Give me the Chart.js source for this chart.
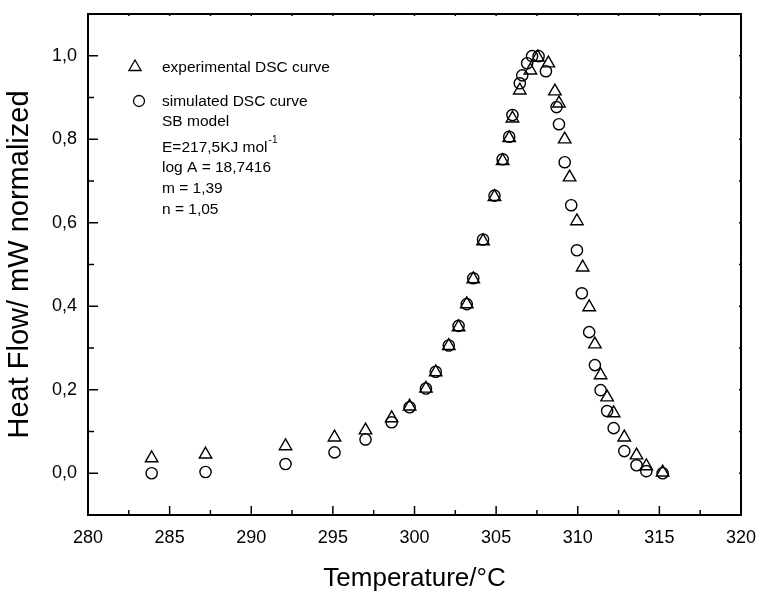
<!DOCTYPE html>
<html>
<head>
<meta charset="utf-8">
<script src="https://cdn.jsdelivr.net/npm/chart.js@4.4.1/dist/chart.umd.min.js"></script>
<style>
html,body{margin:0;padding:0;background:#fff;}
#wrap{width:759px;height:594px;position:relative;}
</style>
</head>
<body>
<div id="wrap"><canvas id="c" width="759" height="594"></canvas></div>
<script>
// Experimental DSC curve (triangles)
const expTemp = [283.9, 287.2, 292.1, 295.1, 297.0, 298.6, 299.7, 300.7, 301.3, 302.1, 302.7, 303.2, 303.6, 304.2, 304.9, 305.4, 305.8, 306.0, 306.45, 307.1, 307.55, 308.2, 308.6, 308.85, 309.2, 309.5, 309.95, 310.3, 310.7, 311.05, 311.4, 311.8, 312.2, 312.85, 313.6, 314.2, 315.2];
const expHeat = [0.036, 0.045, 0.065, 0.086, 0.103, 0.132, 0.160, 0.203, 0.242, 0.305, 0.350, 0.405, 0.465, 0.556, 0.662, 0.748, 0.803, 0.850, 0.917, 0.965, 0.996, 0.982, 0.915, 0.886, 0.800, 0.709, 0.604, 0.493, 0.398, 0.309, 0.235, 0.182, 0.144, 0.086, 0.043, 0.017, 0.002];
// Simulated DSC curve (circles)
const simTemp = [283.9, 287.2, 292.1, 295.1, 297.0, 298.6, 299.7, 300.7, 301.3, 302.1, 302.7, 303.2, 303.6, 304.2, 304.9, 305.4, 305.8, 306.0, 306.45, 306.6, 306.9, 307.2, 307.6, 308.05, 308.7, 308.85, 309.2, 309.6, 309.95, 310.25, 310.7, 311.05, 311.4, 311.8, 312.2, 312.85, 313.6, 314.2, 315.2];
const simHeat = [0.0, 0.003, 0.022, 0.050, 0.081, 0.122, 0.158, 0.203, 0.243, 0.306, 0.353, 0.405, 0.467, 0.560, 0.665, 0.752, 0.806, 0.858, 0.934, 0.953, 0.982, 0.999, 0.999, 0.963, 0.877, 0.836, 0.745, 0.642, 0.534, 0.431, 0.338, 0.259, 0.199, 0.149, 0.108, 0.053, 0.019, 0.005, 0.0];

const legendLines = ["experimental DSC curve", "simulated DSC curve", "SB model", "E=217,5KJ mol", "log A = 18,7416", "m = 1,39", "n = 1,05"];
const xTitle = "Temperature/\u00B0C";
const yTitle = "Heat Flow/ mW normalized";

const FONT = "'Liberation Sans', Arial, sans-serif";

function pts(xs, ys){ return xs.map((x,i)=>({x:x, y:ys[i]})); }

const frame = {
  id:'frame',
  afterDraw(chart){
    const ctx = chart.ctx, a = chart.chartArea;
    const xs = chart.scales.x, ys = chart.scales.y;
    ctx.save();
    ctx.strokeStyle = '#000';
    ctx.lineWidth = 1.5;
    // inward ticks bottom & top
    xs.ticks.forEach(t=>{
      const px = xs.getPixelForValue(t.value);
      const major = Math.abs(t.value/5 - Math.round(t.value/5)) < 1e-6;
      ctx.beginPath();
      ctx.moveTo(px, a.bottom); ctx.lineTo(px, a.bottom - (major?9:5));
      ctx.moveTo(px, a.top); ctx.lineTo(px, a.top + 2);
      ctx.stroke();
    });
    ys.ticks.forEach(t=>{
      const py = ys.getPixelForValue(t.value);
      const major = Math.abs(t.value/0.2 - Math.round(t.value/0.2)) < 1e-6;
      ctx.beginPath();
      ctx.moveTo(a.left, py); ctx.lineTo(a.left + (major?10:6), py);
      ctx.moveTo(a.right, py); ctx.lineTo(a.right - 2, py);
      ctx.stroke();
    });
    ctx.lineWidth = 2;
    ctx.strokeRect(a.left, a.top, a.right - a.left, a.bottom - a.top);

    // legend / annotation
    const lx = a.left + 47, tx = a.left + 74;
    ctx.lineWidth = 1.3;
    ctx.fillStyle = 'rgba(0,0,0,0)';
    Chart.helpers.drawPoint(ctx, {pointStyle:'triangle', radius:7, borderWidth:1.3}, lx, a.top + 53);
    Chart.helpers.drawPoint(ctx, {pointStyle:'circle', radius:5.5, borderWidth:1.3}, lx + 4, a.top + 87);
    ctx.fillStyle = '#000';
    ctx.font = "15.5px " + FONT;
    ctx.textBaseline = 'middle';
    ctx.textAlign = 'left';
    const ys0 = [54, 88, 108, 134, 154, 175, 196];
    legendLines.forEach((s,i)=>{
      ctx.fillText(s, tx, a.top + ys0[i]);
    });
    const w = ctx.measureText(legendLines[3]).width;
    ctx.font = "10px " + FONT;
    ctx.fillText("-1", tx + w + 1, a.top + ys0[3] - 8);
    ctx.restore();
  }
};

new Chart(document.getElementById('c'), {
  type:'scatter',
  data:{
    datasets:[
      {label:'experimental DSC curve', data:pts(expTemp, expHeat), pointStyle:'triangle', radius:7.2, borderColor:'#000', backgroundColor:'rgba(0,0,0,0)', borderWidth:1.4, showLine:false},
      {label:'simulated DSC curve', data:pts(simTemp, simHeat), pointStyle:'circle', radius:5.6, borderColor:'#000', backgroundColor:'rgba(0,0,0,0)', borderWidth:1.4, showLine:false}
    ]
  },
  options:{
    responsive:false,
    animation:false,
    events:[],
    layout:{padding:{top:14, right:18, left:0, bottom:0}},
    plugins:{legend:{display:false}, tooltip:{enabled:false}},
    scales:{
      x:{
        type:'linear', min:280, max:320,
        afterFit(s){ s.height = 79; s.paddingLeft = 0; s.paddingRight = 0; },
        border:{display:false},
        grid:{display:false, drawTicks:false},
        ticks:{
          stepSize:2.5, padding:12, color:'#000', maxRotation:0, autoSkip:false,
          font:{family:FONT, size:18},
          callback(v){ return Math.abs(v/5 - Math.round(v/5)) < 1e-6 ? String(Math.round(v)) : ''; }
        },
        title:{display:true, text:xTitle, color:'#000', font:{family:FONT, size:26}, padding:{top:0,bottom:0}}
      },
      y:{
        type:'linear', min:-0.1, max:1.1,
        afterFit(s){ s.width = 88; s.paddingTop = 0; s.paddingBottom = 0; },
        border:{display:false},
        grid:{display:false, drawTicks:false},
        ticks:{
          stepSize:0.1, padding:11, color:'#000', autoSkip:false,
          font:{family:FONT, size:18},
          callback(v){ return Math.abs(v/0.2 - Math.round(v/0.2)) < 1e-6 && v > -0.05 && v < 1.05 ? v.toFixed(1).replace('.', ',') : ''; }
        },
        title:{display:true, text:yTitle, color:'#000', font:{family:FONT, size:29}, padding:{top:3,bottom:0}}
      }
    }
  },
  plugins:[frame]
});
</script>
</body>
</html>
